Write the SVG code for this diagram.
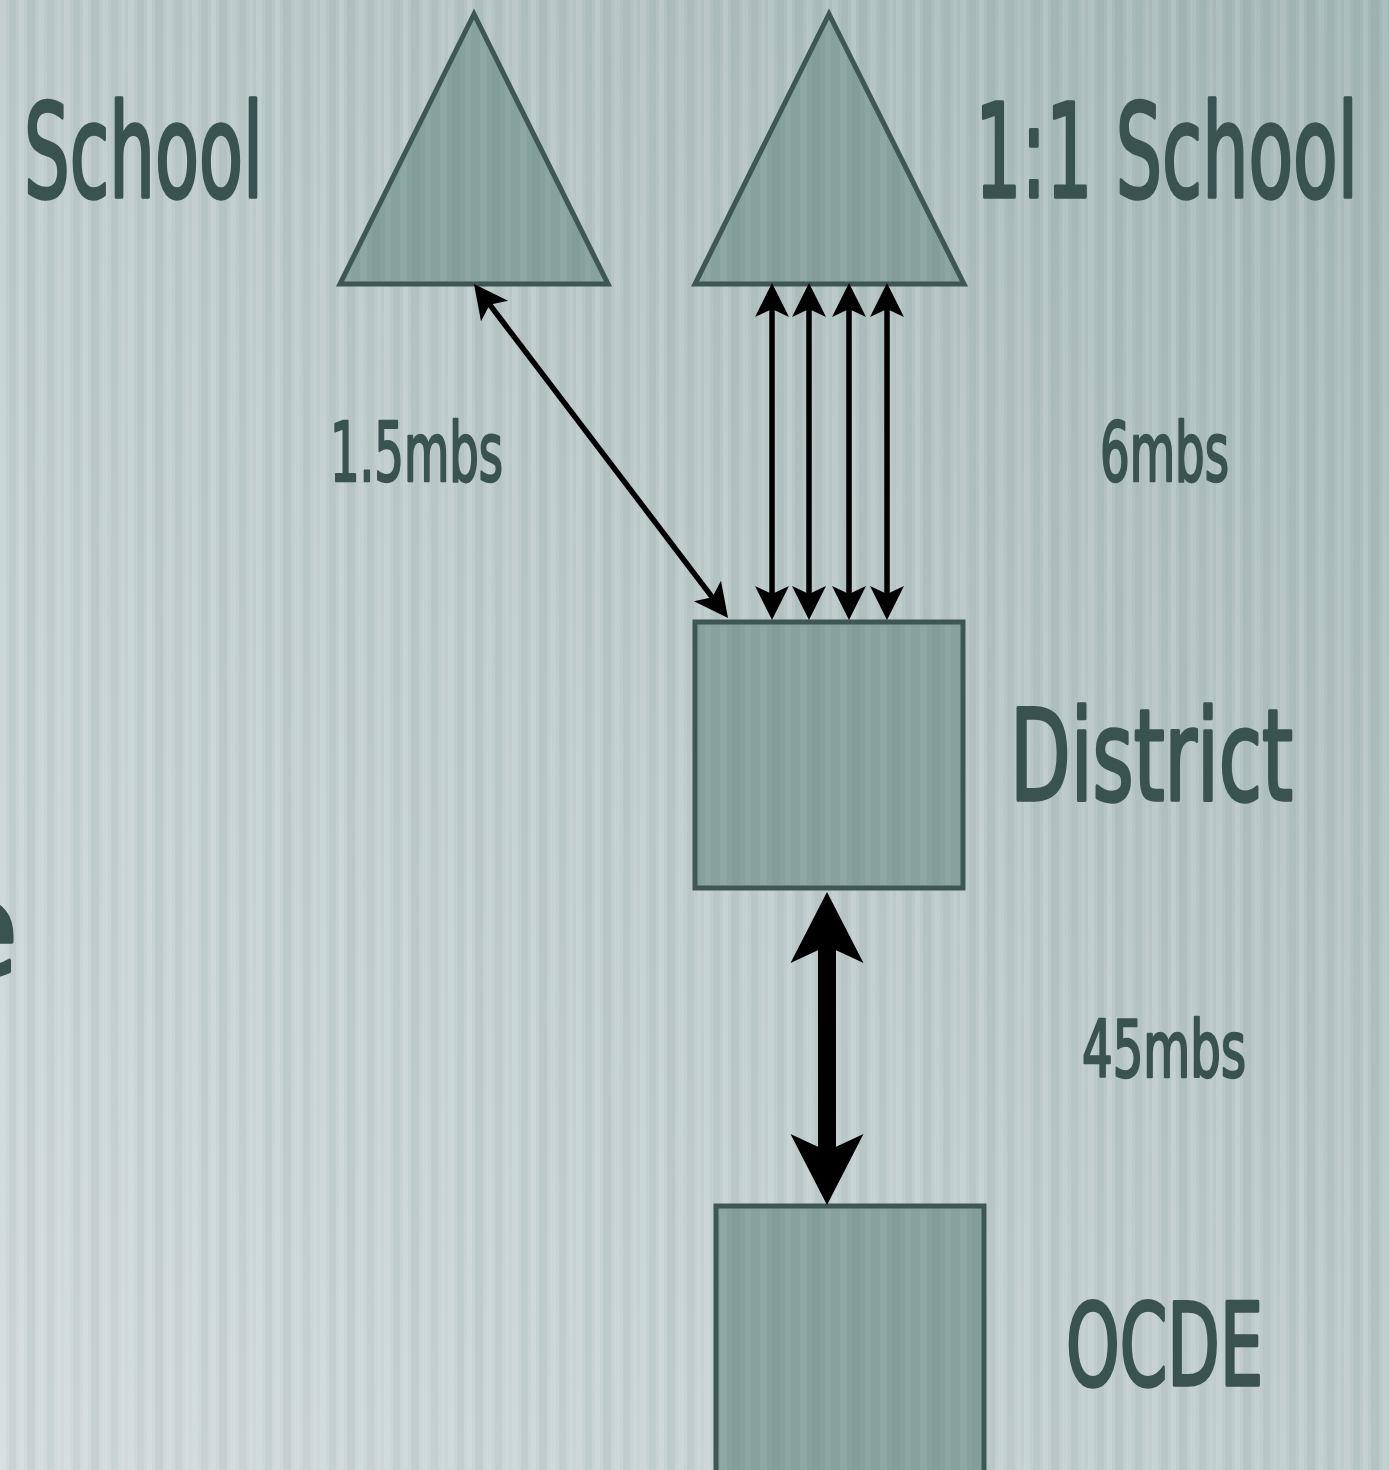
<svg xmlns="http://www.w3.org/2000/svg" width="1389" height="1470" viewBox="0 0 1389 1470">
<defs>
<linearGradient id="bg" x1="0" y1="1" x2="1" y2="0">
<stop offset="0" stop-color="#d2dbdc"/>
<stop offset="0.45" stop-color="#bfcdcc"/>
<stop offset="1" stop-color="#a3b7b5"/>
</linearGradient>
<pattern id="stripes" patternUnits="userSpaceOnUse" width="64" height="1470">
<rect x="0" y="0" width="6" height="1470" fill="#ffffff" opacity="0.10"/>
<rect x="9" y="0" width="7" height="1470" fill="#5f7f7c" opacity="0.08"/>
<rect x="19" y="0" width="5" height="1470" fill="#ffffff" opacity="0.12"/>
<rect x="27" y="0" width="8" height="1470" fill="#5f7f7c" opacity="0.09"/>
<rect x="38" y="0" width="6" height="1470" fill="#ffffff" opacity="0.09"/>
<rect x="47" y="0" width="7" height="1470" fill="#5f7f7c" opacity="0.07"/>
<rect x="57" y="0" width="4" height="1470" fill="#ffffff" opacity="0.08"/>
</pattern>
<pattern id="shapestripes" patternUnits="userSpaceOnUse" width="40" height="1470">
<rect x="0" y="0" width="7" height="1470" fill="#ffffff" opacity="0.06"/>
<rect x="12" y="0" width="8" height="1470" fill="#3e5654" opacity="0.05"/>
<rect x="25" y="0" width="6" height="1470" fill="#ffffff" opacity="0.05"/>
</pattern>
<marker id="headThin" markerUnits="userSpaceOnUse" viewBox="-20 -20 60 40" markerWidth="60" markerHeight="40" refX="0" refY="0" orient="auto-start-reverse">
<path d="M26,0 L-8,-17 L0,0 L-8,17 Z" fill="#000"/>
</marker>
<marker id="headBig" markerUnits="userSpaceOnUse" viewBox="-30 -40 100 80" markerWidth="100" markerHeight="80" refX="0" refY="0" orient="auto-start-reverse">
<path d="M54,0 L-17,-36.5 L0,0 L-17,36.5 Z" fill="#000"/>
</marker>
</defs>
<style>
.shape{fill:#87a19d;stroke:#3e5654;stroke-width:5}
.overlay{fill:url(#shapestripes);stroke:none}
.lbl{font-family:"DejaVu Sans Condensed","Liberation Sans",sans-serif;fill:#3a5250;stroke:#3a5250;stroke-width:3.5;stroke-linejoin:round;font-weight:normal}
.sm{stroke-width:2.5}
.thin{stroke:#000;stroke-width:5.5;fill:none;marker-start:url(#headThin);marker-end:url(#headThin)}
.big{stroke:#000;stroke-width:18;fill:none;marker-start:url(#headBig);marker-end:url(#headBig)}
</style>
<rect x="0" y="0" width="1389" height="1470" fill="url(#bg)"/>
<rect x="0" y="0" width="1389" height="1470" fill="url(#stripes)"/>

<g id="school">
<polygon class="shape" points="474,14 340,284 608,284"/>
<polygon class="overlay" points="474,20 345,281 603,281"/>
<text class="lbl" x="24" y="197" font-size="130" textLength="239" lengthAdjust="spacingAndGlyphs">School</text>
</g>
<g id="school11">
<polygon class="shape" points="829,14 695,284 964,284"/>
<polygon class="overlay" points="829,20 700,281 959,281"/>
<text class="lbl" x="975" y="197" font-size="130" textLength="383" lengthAdjust="spacingAndGlyphs">1:1 School</text>
</g>
<g id="district">
<rect class="shape" x="695" y="622" width="268" height="266"/>
<rect class="overlay" x="698" y="625" width="262" height="260"/>
<text class="lbl" x="1010" y="800" font-size="126" textLength="283" lengthAdjust="spacingAndGlyphs">District</text>
</g>
<g id="ocde">
<rect class="shape" x="716" y="1206" width="268" height="290"/>
<rect class="overlay" x="719" y="1209" width="262" height="270"/>
<text class="lbl" x="1066" y="1385" font-size="114" textLength="197" lengthAdjust="spacingAndGlyphs">OCDE</text>
</g>
<g id="cut-text">
<text class="lbl" x="18" y="975" font-size="130" text-anchor="end">e</text>
</g>

<g id="connectors">
<line class="thin" x1="489.7" y1="304.7" x2="712.3" y2="597.3"/>
<line class="thin" x1="772" y1="309" x2="772" y2="594"/>
<line class="thin" x1="809" y1="309" x2="809" y2="594"/>
<line class="thin" x1="849" y1="309" x2="849" y2="594"/>
<line class="thin" x1="887" y1="309" x2="887" y2="594"/>
<line class="big" x1="827" y1="946" x2="827" y2="1151"/>
<text class="lbl sm" x="330" y="481" font-size="82" textLength="173" lengthAdjust="spacingAndGlyphs">1.5mbs</text>
<text class="lbl sm" x="1100" y="481" font-size="82" textLength="129" lengthAdjust="spacingAndGlyphs">6mbs</text>
<text class="lbl sm" x="1082" y="1077" font-size="78" textLength="164" lengthAdjust="spacingAndGlyphs">45mbs</text>
</g>
</svg>
